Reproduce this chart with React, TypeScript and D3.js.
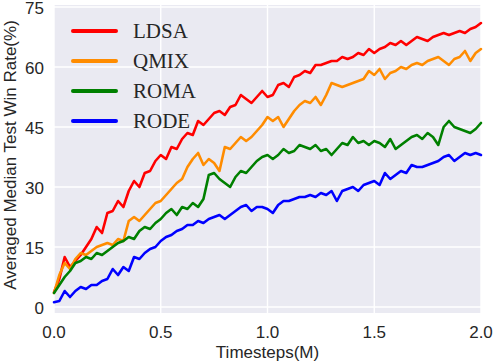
import React from "react";
import * as d3 from "d3";

// values, one point every 0.025M timesteps
const ldsa = [
  3.7, 7, 12.5, 10, 11.5, 13, 15, 17, 20, 18.5, 23.5, 24, 26.5, 25, 29, 31.5, 30, 33.5, 34, 36.5,
  38, 37, 40, 39.5, 42, 43.5, 43, 46.5, 45.5, 47, 48.5, 49, 48, 50, 50.5, 53, 52, 51, 52.5, 54,
  52.5, 53, 55.5, 56, 55, 57.5, 58, 59, 58.5, 60.5, 60.5, 61, 61.5, 61.5, 62.5, 62, 62.5, 63.5, 63, 64.5,
  63.5, 64.5, 65, 66, 65.5, 66.5, 65.5, 66.5, 67.5, 67, 66.5, 67.5, 68, 68.5, 68, 68.5, 69, 68.5, 69.5, 70,
  71,
];
const qmix = [
  3.5, 8, 11, 9.5, 12, 13.5, 13, 14, 15, 15.5, 16, 15.5, 17, 16.5, 21.5, 22.5, 21.5, 23, 24.5, 26,
  26.5, 28, 29.5, 31, 32, 35, 37, 38.5, 35.5, 37, 36, 34, 40, 39.5, 41, 42.5, 41.5, 42.5, 44, 45.5,
  47.5, 46.5, 47.5, 45, 47, 49, 50.5, 51.5, 51, 52.5, 50.5, 53, 56, 55.5, 55, 55.5, 56, 56.5, 57, 59,
  58, 59.5, 57, 58.5, 59, 60, 59.5, 60.5, 61, 60.5, 61.5, 62, 62.5, 61.5, 60.5, 62, 62.5, 64, 61.5, 63.5,
  64.5,
];
const roma = [
  3.5, 5.5, 7.5, 9, 11, 11.5, 12.5, 12, 13.5, 13, 14, 15, 16, 16.5, 17.5, 17, 19, 20, 19.5, 21,
  22, 23.5, 24.5, 23, 25, 24.5, 26, 25, 27, 33, 33.5, 32, 31, 30, 32.5, 34, 33.5, 35, 36.5, 37.5,
  38, 37, 38, 39.5, 38.5, 39, 40.5, 40, 39.5, 40.5, 39, 39.5, 38, 39.5, 41, 40.5, 42.5, 41, 41.5, 40.5,
  41.5, 41, 40, 42, 39.5, 40.5, 41.5, 42.5, 43, 42, 43.5, 42.5, 40.5, 45, 46.5, 45, 44.5, 44, 43.5, 44.5,
  46,
];
const rode = [
  1.2, 1.5, 4, 2.5, 4, 5, 4.5, 5.5, 5.5, 6.5, 7, 9.5, 8, 10, 9, 12.5, 12, 13.5, 14.5, 15,
  16.5, 17.5, 18, 19, 19.5, 20.5, 20.5, 21.5, 21, 22, 22.5, 23, 22, 23, 24, 25, 25.5, 24, 25, 25,
  24.5, 23.5, 25.5, 26.5, 26.5, 27, 27.5, 27.5, 28, 27.5, 28.5, 28, 29, 26.5, 29, 29.5, 30, 29, 30.5, 31,
  31.5, 30.5, 33.5, 32, 33, 34, 33.5, 35.5, 35, 35, 35.5, 36, 36.5, 37.5, 38, 36.5, 37.5, 38.5, 38, 38.5,
  38,
];

const names = ["LDSA", "QMIX", "ROMA", "RODE"];
const colors = ["#ff0000", "#ff8c00", "#008000", "#0000ff"];
const series = [ldsa, qmix, roma, rode];
const xTicks = [0, 0.5, 1.0, 1.5, 2.0];
const yTicks = [0, 15, 30, 45, 60, 75];

const W = 494;
const H = 364;
const left = 54, right = 481, top = 5, bottom = 313;

export default function App() {
  const x = d3.scaleLinear().domain([0, 2]).range([left, right]);
  const y = d3.scaleLinear().domain([-1.5, 75.5]).range([bottom, top]);

  const line = d3
    .line<number>()
    .x((d, i, arr) => x((i * 2) / (arr.length - 1)))
    .y((d) => y(d));

  const sans = "'Liberation Sans', Arial, sans-serif";

  return (
    <svg
      width={W}
      height={H}
      style={{ position: "absolute", left: 0, top: 0, background: "#fff" }}
    >
      <rect x={left} y={top} width={right - left} height={bottom - top} fill="#eaeaf2" />
      {xTicks.map((t) => (
        <line key={"gx" + t} x1={x(t)} x2={x(t)} y1={top} y2={bottom} stroke="#fff" strokeWidth={1.4} />
      ))}
      {yTicks.map((t) => (
        <line key={"gy" + t} x1={left} x2={right} y1={y(t)} y2={y(t)} stroke="#fff" strokeWidth={1.4} />
      ))}

      {series.map((s, k) => (
        <path
          key={names[k]}
          d={line(s) || ""}
          fill="none"
          stroke={colors[k]}
          strokeWidth={2.6}
          strokeLinejoin="round"
          strokeLinecap="round"
        />
      ))}

      {/* tick labels */}
      {xTicks.map((t) => (
        <text key={"tx" + t} x={x(t)} y={338} textAnchor="middle" fontFamily={sans} fontSize={17} fill="#262626">
          {t.toFixed(1)}
        </text>
      ))}
      {yTicks.map((t) => (
        <text key={"ty" + t} x={44} y={y(t) + 6.5} textAnchor="end" fontFamily={sans} fontSize={17} fill="#262626">
          {t}
        </text>
      ))}

      <text x={(left + right) / 2} y={358} textAnchor="middle" fontFamily={sans} fontSize={17} fill="#262626">
        Timesteps(M)
      </text>
      <text
        transform={`translate(15.5,155) rotate(-90)`}
        textAnchor="middle"
        fontFamily={sans}
        fontSize={17}
        fill="#262626"
      >
        Averaged Median Test Win Rate(%)
      </text>

      {/* legend */}
      {names.map((n, k) => (
        <g key={"lg" + n} transform={`translate(0,${31 + k * 30})`}>
          <line x1={73} x2={116} y1={0} y2={0} stroke={colors[k]} strokeWidth={4} strokeLinecap="round" />
          <text x={133} y={6.5} fontFamily="'Liberation Serif', 'Times New Roman', serif" fontSize={21} fill="#262626">
            {n}
          </text>
        </g>
      ))}
    </svg>
  );
}
